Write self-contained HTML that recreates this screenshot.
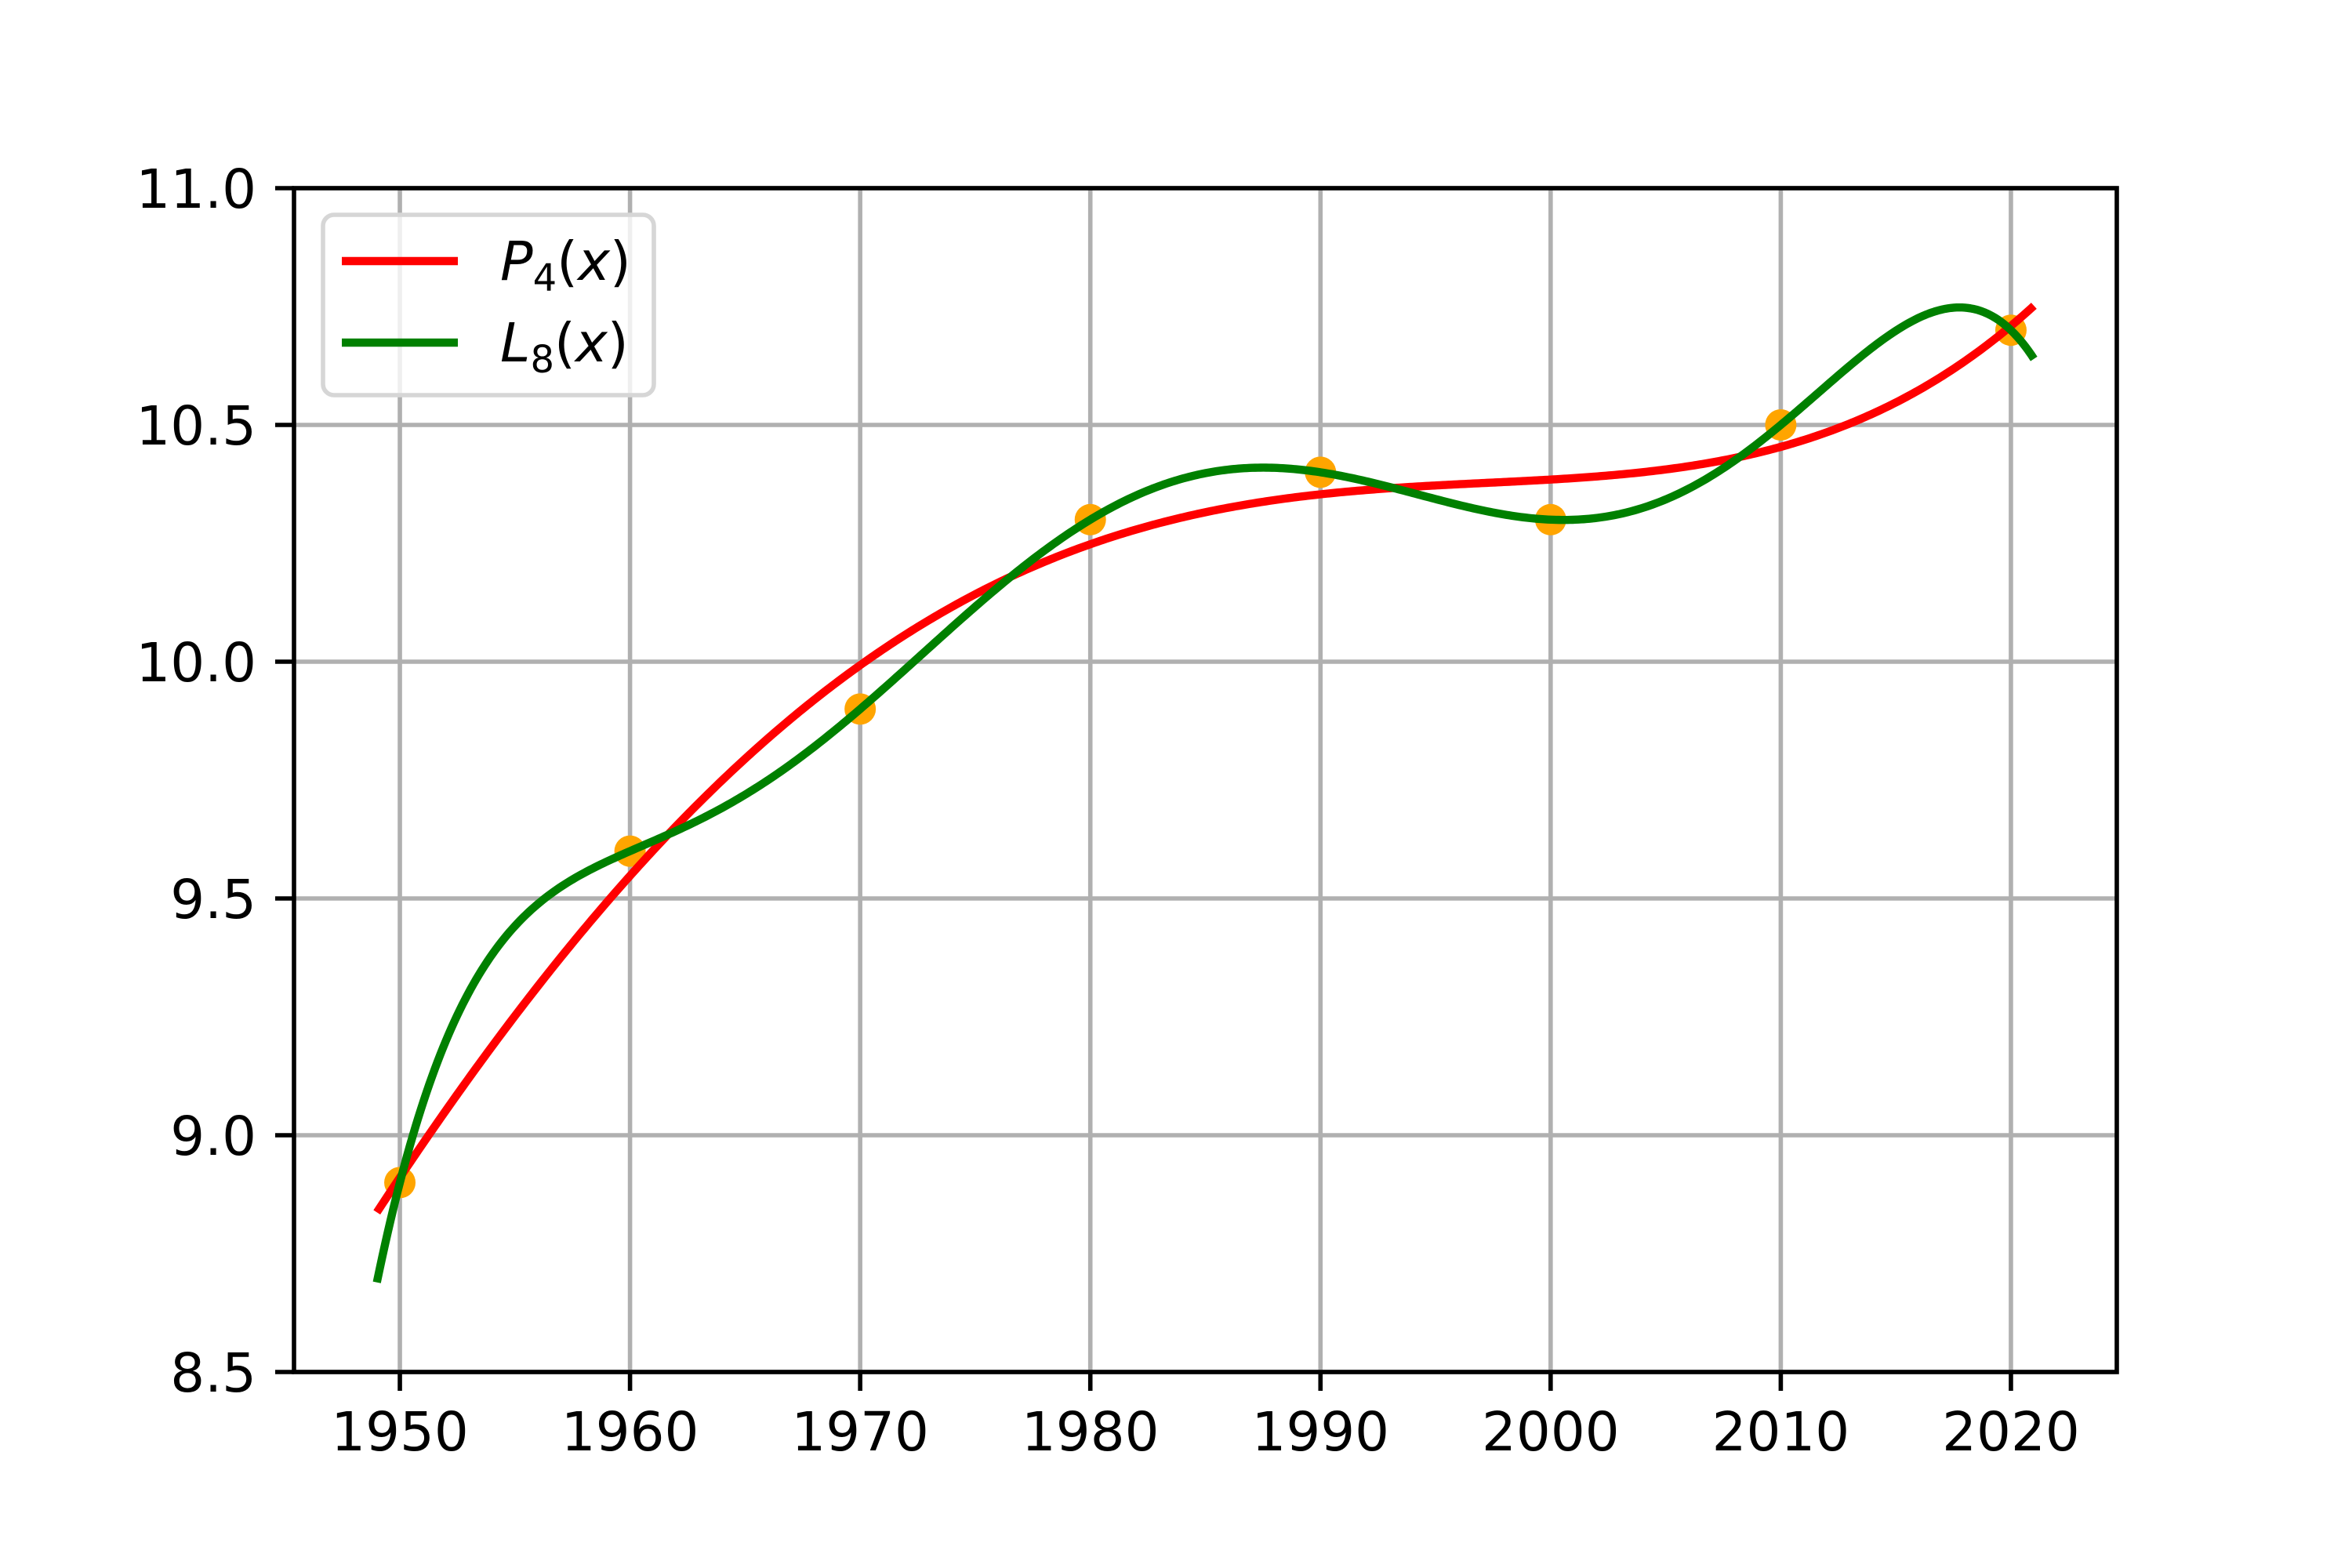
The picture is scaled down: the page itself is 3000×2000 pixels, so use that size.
<!DOCTYPE html>
<html><head><meta charset="utf-8"><style>
html,body{margin:0;padding:0;background:#fff}
svg{display:block}
text{font-family:"DejaVu Sans","Liberation Sans",sans-serif;font-size:69px;fill:#000}
</style></head><body>
<svg id="chart" width="3000" height="2000" viewBox="0 0 3000 2000" xmlns="http://www.w3.org/2000/svg">
<rect width="3000" height="2000" fill="#fff"/>
<g id="grid"></g>
<g id="points"></g>
<g id="lines"></g>
<g id="axes"></g>
<g id="legend">
  <rect x="412" y="274" width="422" height="230" rx="14" fill="#fff" fill-opacity="0.8" stroke="#d6d6d6" stroke-width="5.6"/>
  <line x1="436" y1="333" x2="584" y2="333" stroke="#ff0000" stroke-width="10.4"/>
  <text x="638" y="357"><tspan font-style="italic">P</tspan><tspan font-size="48" dy="14">4</tspan><tspan dy="-14">(</tspan><tspan font-style="italic">x</tspan>)</text>
  <line x1="436" y1="437" x2="584" y2="437" stroke="#008000" stroke-width="10.4"/>
  <text x="638" y="461"><tspan font-style="italic">L</tspan><tspan font-size="48" dy="14">8</tspan><tspan dy="-14">(</tspan><tspan font-style="italic">x</tspan>)</text>
</g>
</svg>
<script>
const years = [1950,1960,1970,1980,1990,2000,2010,2020];
const values = [8.9,9.6,9.9,10.3,10.4,10.3,10.5,10.7];
const xTicks = [1950,1960,1970,1980,1990,2000,2010,2020];
const yTicks = [8.5,9.0,9.5,10.0,10.5,11.0];
const yTickLabels = ["8.5","9.0","9.5","10.0","10.5","11.0"];
const curveRange = [1949,2021];

const L=375,R=2700,T=240,B=1750;
const xMin=1945.4,xMax=2024.6,yMin=8.5,yMax=11.0;
const sx=v=>L+(v-xMin)/(xMax-xMin)*(R-L);
const sy=v=>B-(v-yMin)/(yMax-yMin)*(B-T);
const NS="http://www.w3.org/2000/svg";
function mk(tag,attrs,parent){const e=document.createElementNS(NS,tag);for(const k in attrs)e.setAttribute(k,attrs[k]);parent.appendChild(e);return e;}

const grid=document.getElementById('grid'),axes=document.getElementById('axes');
xTicks.forEach(t=>{
  const g=mk('line',{x1:sx(t),x2:sx(t),y1:T,y2:B,stroke:'#b0b0b0','stroke-width':5.6},grid);
  
  
  const tk=mk('line',{x1:sx(t),x2:sx(t),y1:B,y2:B+24,stroke:'#000','stroke-width':5.6},axes);
  
  
  const tx=mk('text',{x:sx(t),y:B+24+24+52,'text-anchor':'middle'},axes);
  tx.textContent=t;
  
  
});
yTicks.forEach((t,i)=>{
  const g=mk('line',{x1:L,x2:R,y1:sy(t),y2:sy(t),stroke:'#b0b0b0','stroke-width':5.6},grid);
  
  
  const tk=mk('line',{x1:L-24,x2:L,y1:sy(t),y2:sy(t),stroke:'#000','stroke-width':5.6},axes);
  
  
  const tx=mk('text',{x:L-24-24,y:sy(t)+25,'text-anchor':'end'},axes);
  tx.textContent=yTickLabels[i];
  
  
});
const fr=mk('rect',{x:L,y:T,width:R-L,height:B-T,fill:'none',stroke:'#000','stroke-width':5.6,'stroke-linejoin':'miter'},axes);



const pts=document.getElementById('points');
years.forEach((y,i)=>{
  const c=mk('circle',{cx:sx(y),cy:sy(values[i]),r:20,fill:'#ffa500'},pts);
  
  
});

function lagrange(x){let s=0;for(let i=0;i<years.length;i++){let p=values[i];for(let j=0;j<years.length;j++){if(j!==i)p*=(x-years[j])/(years[i]-years[j]);}s+=p;}return s;}
const c0=1985,sc=35,deg=4;
const A=[],bv=[];
for(let r=0;r<=deg;r++){A.push(new Array(deg+1).fill(0));bv.push(0);}
years.forEach((y,k)=>{const t=(y-c0)/sc;for(let r=0;r<=deg;r++){for(let c=0;c<=deg;c++)A[r][c]+=Math.pow(t,r+c);bv[r]+=values[k]*Math.pow(t,r);}});
const n=deg+1;
for(let i=0;i<n;i++){let p=i;for(let k=i+1;k<n;k++)if(Math.abs(A[k][i])>Math.abs(A[p][i]))p=k;[A[i],A[p]]=[A[p],A[i]];[bv[i],bv[p]]=[bv[p],bv[i]];
 for(let k=i+1;k<n;k++){const f=A[k][i]/A[i][i];for(let c=i;c<n;c++)A[k][c]-=f*A[i][c];bv[k]-=f*bv[i];}}
const coef=new Array(n).fill(0);
for(let i=n-1;i>=0;i--){let s=bv[i];for(let c=i+1;c<n;c++)s-=A[i][c]*coef[c];coef[i]=s/A[i][i];}
function p4(x){const t=(x-c0)/sc;let s=0;for(let i=n-1;i>=0;i--)s=s*t+coef[i];return s;}

function path(f){let d='';const N=600;for(let i=0;i<=N;i++){const x=curveRange[0]+(curveRange[1]-curveRange[0])*i/N;d+=(i?'L':'M')+sx(x).toFixed(2)+','+sy(f(x)).toFixed(2);}return d;}
const lines=document.getElementById('lines');
const pr=mk('path',{d:path(p4),fill:'none',stroke:'#ff0000','stroke-width':10.4,'stroke-linejoin':'round'},lines);


const pg=mk('path',{d:path(lagrange),fill:'none',stroke:'#008000','stroke-width':10.4,'stroke-linejoin':'round'},lines);


</script>
</body></html>
